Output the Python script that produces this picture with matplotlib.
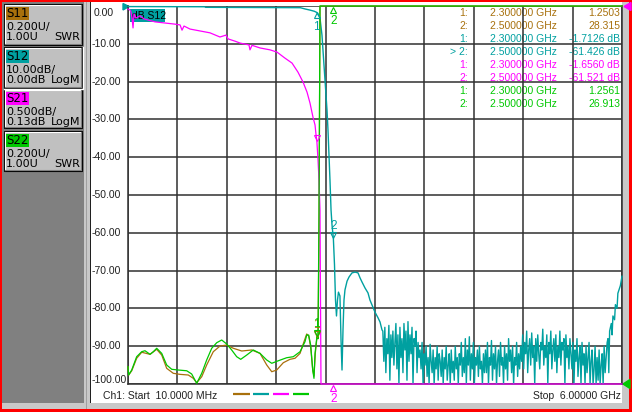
import matplotlib
matplotlib.use("Agg")
import matplotlib.pyplot as plt
import matplotlib.patches as patches
from matplotlib.transforms import offset_copy
import numpy as np

plt.rcParams["font.family"] = ["Liberation Sans", "DejaVu Sans"]

W, H = 632, 412

# sweep (GHz)
F_START, F_STOP = 0.01, 6.0
MARKER_F = [2.3, 2.5]

C_S11 = "#a8700c"
C_S12 = "#00a0a0"
C_S21 = "#ff00ff"
C_S22 = "#00c800"

# channel panel: name, colour, scale line, ref line, format
CH_NAMES = ["S11", "S12", "S21", "S22"]
CH_COLORS = [C_S11, C_S12, C_S21, C_S22]
CH_SCALE = ["0.200U/", "10.00dB/", "0.500dB/", "0.200U/"]
CH_REF = ["1.00U", "0.00dB", "0.13dB", "1.00U"]
CH_FMT = ["SWR", "LogM", "LogM", "SWR"]

# marker readouts
S11_MK = [1.2503, 28.315]
S12_MK = [-1.7126, -61.426]
S21_MK = [-1.6560, -61.521]
S22_MK = [1.2561, 26.913]

# S12 (dB), smooth part
S12_F_A = [0.01, 0.94, 0.95, 2.10, 2.16, 2.22, 2.27, 2.30, 2.338, 2.362,
           2.399, 2.423, 2.435, 2.459, 2.472, 2.484, 2.50, 2.514, 2.526, 2.538,
           2.55, 2.562, 2.58, 2.593, 2.605, 2.617, 2.629, 2.641, 2.666, 2.69,
           2.726, 2.763, 2.799, 2.823, 2.847, 2.884, 2.92, 2.944, 2.969, 3.005,
           3.042, 3.066, 3.09]
S12_DB_A = [-0.15, -0.2, -0.35, -0.45, -0.8, -1.1, -1.4, -1.7126, -3.2, -7.7,
            -19.6, -27.5, -32.8, -46, -54, -58, -61.426, -68.5, -77.8, -82,
            -77.8, -75.7, -76.7, -88.4, -96.3, -85.7, -77.8, -75.1, -72.8, -71.7,
            -70.6, -70.4, -70.6, -71.9, -73, -74.6, -75.9, -77.8, -79.1, -81,
            -82.5, -83.6, -85.7]
# S12 noise floor, 3.10 .. 5.82 GHz
S12_NOISE = [
    -86, -94, -85, -97, -88, -92, -84.5, -99, -87, -93, -86, -95,
    -89, -84, -96, -87, -100, -85, -93, -88, -97, -84, -91, -86, -99, -83.5,
    -94, -87, -92, -85, -100, -88, -90, -86, -97, -89, -93,
    -91, -96, -89, -100, -92, -95, -90, -98, -93, -100, -89.5, -94, -97, -91,
    -100, -93, -96, -90, -99, -92,
    -94, -98, -91, -100, -93, -96, -90, -99, -95, -92, -100, -91, -97, -94,
    -99, -90, -96, -93, -100, -92, -95, -89, -98, -93, -97, -88, -100, -91,
    -95, -87.5, -99, -92, -96, -89, -100, -93, -95, -91, -98, -90, -96, -94,
    -100, -92, -97,
    -91, -97, -89, -100, -93, -95, -88.5, -99, -92, -96, -90, -100, -94, -91,
    -98, -89, -95, -93, -100, -90, -96, -92, -99, -88, -94, -91, -97, -90,
    -100, -93, -95, -89, -98, -92, -96,
    -90, -94, -87, -96, -89, -92, -86, -97, -91, -88, -95, -86.5, -93, -90,
    -100, -88, -94, -87, -92, -96, -89, -91, -85.5, -95, -90, -93, -87, -100,
    -89, -92, -86, -96, -91, -88, -94, -87, -97, -90, -93, -86, -95, -89,
    -91, -88, -100, -87, -93, -90, -96, -88,
    -92, -96, -89, -100, -91, -94, -88, -98, -93, -90, -100, -89, -95, -92,
    -100, -90, -97, -93, -89, -100, -94, -91, -100, -96, -90, -100, -93, -99,
    -91, -100, -95, -92, -100, -90, -97, -93, -89,
]
S12_F_C = [5.83, 5.84, 5.85, 5.87, 5.88, 5.89, 5.91, 5.92, 5.94, 5.95, 5.98, 6.0]
S12_DB_C = [-88, -97, -86, -84, -87, -82, -83, -79, -80, -76, -74, -71.5]

# S21 (dB)
S21_F = [0.010, 0.034, 0.046, 0.059, 0.071, 0.083, 0.107, 0.156, 0.204, 0.253,
         0.337, 0.459, 0.580, 0.641, 0.665, 0.689, 0.762, 0.883, 1.004, 1.125,
         1.198, 1.223, 1.307, 1.368, 1.477, 1.489, 1.514, 1.611, 1.732, 1.817,
         1.914, 1.999, 2.071, 2.132, 2.181, 2.217, 2.253, 2.278, 2.290, 2.300,
         2.314, 2.326, 2.338, 2.350, 2.40, 2.50, 3.0, 4.0, 5.0, 6.0]
S21_DB = [0.09, 0.077, 0.05, -0.03, -0.16, 0.025, -0.03, 0.0, -0.04, -0.055,
          -0.08, -0.095, -0.11, -0.12, -0.19, -0.135, -0.175, -0.20, -0.225, -0.28,
          -0.255, -0.305, -0.335, -0.36, -0.385, -0.45, -0.39, -0.425, -0.45, -0.48,
          -0.56, -0.625, -0.745, -0.875, -1.01, -1.155, -1.34, -1.445, -1.575, -1.656,
          -1.905, -2.17, -2.57, -5.0, -20.0, -61.521, -75.0, -85.0, -80.0, -70.0]

# S22 (SWR)
S22_F = [0.010, 0.018, 0.055, 0.115, 0.176, 0.216, 0.277, 0.317, 0.358, 0.419,
         0.479, 0.540, 0.620, 0.722, 0.782, 0.843, 0.904, 0.964, 1.025, 1.086,
         1.146, 1.207, 1.267, 1.328, 1.377, 1.449, 1.529, 1.611, 1.692, 1.753,
         1.833, 1.934, 2.014, 2.096, 2.156, 2.177, 2.201, 2.225, 2.250, 2.265,
         2.278, 2.302, 2.314, 2.326, 2.338, 2.35, 2.5, 3.0, 4.0, 5.0, 6.0]
S22_SWR = [1.0916, 1.0476, 1.074, 1.1444, 1.1708, 1.176, 1.157, 1.1708, 1.189, 1.162,
           1.1006, 1.0778, 1.074, 1.070, 1.053, 1.0038, 1.0566, 1.127, 1.189, 1.2186,
           1.2328, 1.2116, 1.180, 1.1444, 1.1306, 1.153, 1.180, 1.162, 1.127, 1.1096,
           1.123, 1.139, 1.1444, 1.1708, 1.2238, 1.259, 1.259, 1.206, 1.074, 1.030,
           1.162, 1.2561, 1.24, 1.9, 5.0, 20.0, 26.913, 24.0, 18.0, 14.0, 10.0]

# S11 (SWR)
S11_F = [0.010, 0.018, 0.055, 0.115, 0.176, 0.277, 0.358, 0.419, 0.479, 0.559,
         0.641, 0.741, 0.802, 0.843, 0.904, 0.964, 1.044, 1.126, 1.207, 1.287,
         1.389, 1.510, 1.611, 1.692, 1.753, 1.813, 1.893, 1.974, 2.035, 2.096,
         2.144, 2.177, 2.201, 2.225, 2.250, 2.265, 2.281, 2.302, 2.314, 2.326,
         2.338, 2.35, 2.5, 3.0, 4.0, 5.0, 6.0]
S11_SWR = [1.0916, 1.0476, 1.07, 1.136, 1.168, 1.157, 1.1836, 1.153, 1.083, 1.0566,
           1.051, 1.0476, 1.030, 1.0068, 1.0386, 1.1006, 1.1708, 1.201, 1.206, 1.189,
           1.1746, 1.180, 1.162, 1.1006, 1.065, 1.074, 1.1126, 1.1306, 1.136, 1.162,
           1.2238, 1.2646, 1.254, 1.197, 1.074, 1.042, 1.162, 1.2503, 1.24, 1.8,
           5.0, 20.0, 28.315, 25.0, 19.0, 15.0, 11.0]


def to_grid_db(db, ref, per_div):
    # ref at top of the graticule
    return np.clip((np.asarray(db, float) - ref) / per_div * 10, -100, 0)


def to_grid_swr(swr, ref=1.0, per_div=0.2):
    # ref at bottom of the graticule
    return np.clip(-100 + (np.asarray(swr, float) - ref) / per_div * 10, -100, 0)


fig = plt.figure(figsize=(W / 100, H / 100), dpi=100, facecolor="#ff0000")

# ---- window chrome, drawn in pixel coordinates
bg = fig.add_axes([0, 0, 1, 1], zorder=0)
bg.set_xlim(0, W)
bg.set_ylim(H, 0)
bg.axis("off")


def rect(x0, y0, x1, y1, color, **kw):
    bg.add_patch(patches.Rectangle((x0, y0), x1 - x0, y1 - y0, facecolor=color,
                                   edgecolor="none", **kw))


rect(2, 2, 629, 409, "#c8c8c8")
rect(2, 2, 84, 403, "#808080")
rect(86, 2, 87, 409, "#a0a0a0")
rect(91, 2, 622, 403, "white")
rect(90, 2, 91, 403, "#202020")

PANEL_FONT = ["DejaVu Sans"]
BOX_Y = [(4, 45), (47, 88), (89, 128), (131, 171)]
for i, (y0, y1) in enumerate(BOX_Y):
    bg.add_patch(patches.Rectangle((4, y0), 78, y1 - y0, facecolor="#c0c0c0",
                                   edgecolor="black", lw=0.8))
    bg.plot([5, 81], [y0 + 1.2, y0 + 1.2], color="white", lw=0.8)
    bg.plot([5.2, 5.2], [y0 + 1, y1 - 1], color="white", lw=0.8)
    bg.plot([5, 81], [y1 - 1.2, y1 - 1.2], color="#808080", lw=0.8)
    bg.plot([80.8, 80.8], [y0 + 1, y1 - 1], color="#808080", lw=0.8)
    if CH_NAMES[i] == "S12":
        bg.plot([4, 82.6, 82.6], [y1 + 0.6, y1 + 0.6, y0], color="white", lw=1.0)
    rect(6, y0 + 3, 29, y0 + 16, CH_COLORS[i])
    bg.text(6.5, y0 + 9.8, CH_NAMES[i], fontsize=8.5, color="black", va="center",
            family=PANEL_FONT)
    bg.text(6, y0 + 23, CH_SCALE[i], fontsize=8, color="black", va="center",
            family=PANEL_FONT)
    bg.text(6, y0 + 33, CH_REF[i], fontsize=8, color="black", va="center",
            family=PANEL_FONT)
    bg.text(80, y0 + 33, CH_FMT[i], fontsize=8, color="black", va="center",
            ha="right", family=PANEL_FONT)

# y labels (S12 scale)
for v in range(0, -101, -10):
    y = 6 + (-v) * 3.78
    x = 92
    if v == 0:
        y, x = 13, 94
    elif v == -100:
        y = 380
    bg.text(x, y, f"{v:.2f}", fontsize=7.5, color="#202020", va="center")

bg.text(103, 396, "Ch1: Start  10.0000 MHz", fontsize=7.5, color="#202020",
        va="center")
bg.text(621, 396, "Stop  6.00000 GHz", fontsize=7.5, color="#202020", va="center",
        ha="right")
for (x0, x1), c in zip([(233, 250), (253, 269), (273, 289), (293, 309)], CH_COLORS):
    bg.plot([x0, x1], [394, 394], color=c, lw=1.6, solid_capstyle="butt")

# marker table
rows = []
for vals, c, unit in [(S11_MK, C_S11, ""), (S12_MK, C_S12, " dB"),
                      (S21_MK, C_S21, " dB"), (S22_MK, C_S22, "")]:
    for k, (f, v) in enumerate(zip(MARKER_F, vals)):
        rows.append((f"{k + 1}:", f"{f:.6f} GHz", f"{v:#.5g}{unit}", c))
for j, (lab, fr, val, c) in enumerate(rows):
    y = 13 + 13 * j
    if j == 3:
        lab = "> " + lab
    bg.text(468, y, lab, fontsize=7.5, color=c, va="center", ha="right")
    bg.text(490, y, fr, fontsize=7.5, color=c, va="center")
    bg.text(620, y, val, fontsize=7.5, color=c, va="center", ha="right")

# reference level arrows
bg.add_patch(patches.Polygon([(123, 3.5), (129, 6.5), (123, 10)], color=C_S12))
bg.add_patch(patches.Polygon([(631, 2.5), (624, 6.5), (631, 10.5)], color=C_S21))
bg.add_patch(patches.Polygon([(630, 379.5), (623, 384), (630, 388.5)], color=C_S22))

# "dB S12" tag
rect(130, 9, 165, 22, C_S12)
bg.text(132, 15.8, "dB S12", fontsize=7.5, color="black", va="center")

# ---- graticule
ax = fig.add_axes([128 / W, (H - 384) / H, 494 / W, 378 / H], zorder=1)
ax.set_facecolor("none")
ax.set_xlim(F_START, F_STOP)
ax.set_ylim(-100, 0)
ax.set_xticks(np.linspace(F_START, F_STOP, 11))
ax.set_yticks(np.arange(-100, 1, 10))
ax.tick_params(length=0, labelbottom=False, labelleft=False)
ax.grid(True, color="#303030", lw=1.1)
ax.spines["top"].set_visible(False)
for s in ["left", "bottom", "right"]:
    ax.spines[s].set_color("#303030")
    ax.spines[s].set_linewidth(1.1)

s12_f = np.concatenate([S12_F_A, np.linspace(3.10, 5.82, len(S12_NOISE)), S12_F_C])
s12_db = np.concatenate([S12_DB_A, S12_NOISE, S12_DB_C])

ax.plot(s12_f, to_grid_db(s12_db, 0.0, 10.0), color=C_S12, lw=1.0, zorder=3,
        clip_on=False)
ax.plot(S11_F, to_grid_swr(S11_SWR), color=C_S11, lw=0.9, zorder=4, clip_on=False)
ax.plot(S21_F, to_grid_db(S21_DB, 0.13, 0.5), color=C_S21, lw=0.9, zorder=5,
        clip_on=False)
ax.plot(S22_F, to_grid_swr(S22_SWR), color=C_S22, lw=0.9, zorder=6, clip_on=False)


def marker(f, yv, color, label, up, tri_dy, lab_dy, z):
    tr = offset_copy(ax.transData, fig=fig, x=0, y=tri_dy, units="dots")
    ax.plot([f], [yv], marker="^" if up else "v", ms=5, mfc="none", mec=color,
            mew=0.8, transform=tr, clip_on=False, zorder=z)
    if label:
        tl = offset_copy(ax.transData, fig=fig, x=0, y=lab_dy, units="dots")
        ax.text(f, yv, label, color=color, fontsize=8.5, ha="center", va="center",
                transform=tl, clip_on=False, zorder=z)


marker(MARKER_F[0], to_grid_db(S12_MK[0], 0, 10), C_S12, "1", True, -3, -15, 7)
marker(MARKER_F[1], to_grid_db(S12_MK[1], 0, 10), C_S12, "2", False, 3, 12, 7)
marker(MARKER_F[0], to_grid_db(S21_MK[0], 0.13, 0.5), C_S21, "", False, 3, 12, 7)
marker(MARKER_F[1], to_grid_db(S21_MK[1], 0.13, 0.5), C_S21, "2", True, -4, -15, 7)
marker(MARKER_F[0], to_grid_swr(S11_MK[0]), C_S11, "1", False, 3, 12, 6)
marker(MARKER_F[0], to_grid_swr(S22_MK[0]), C_S22, "1", False, 3, 12, 7)
marker(MARKER_F[1], to_grid_swr(S22_MK[1]), C_S22, "2", True, -3.5, -15.5, 7)

fig.savefig("out.png", dpi=100, facecolor=fig.get_facecolor())
